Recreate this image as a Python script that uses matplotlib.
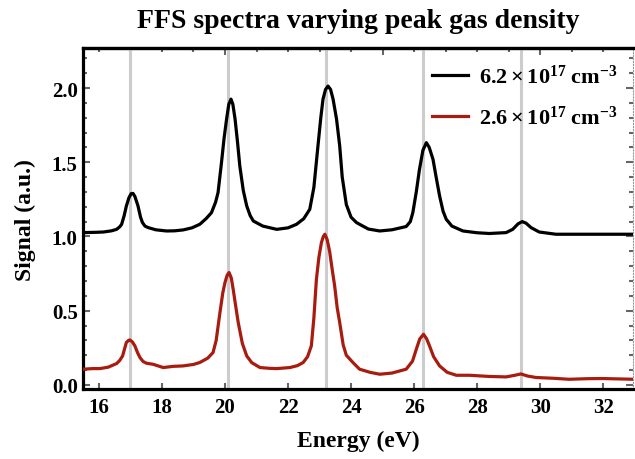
import matplotlib
matplotlib.use("Agg")
import matplotlib.pyplot as plt
from matplotlib.ticker import MultipleLocator, NullLocator

# harmonic positions (gray guide lines), eV
HARMONICS = [17.0, 20.1, 23.2, 26.27, 29.4]

# high density trace
black_x = [15.50, 15.90, 16.14, 16.40, 16.56, 16.66, 16.72, 16.80, 16.87, 16.95,
           17.02, 17.08, 17.14, 17.24, 17.32, 17.38, 17.46, 17.56, 17.80, 18.14,
           18.40, 18.67, 18.95, 19.20, 19.40, 19.57, 19.70, 19.78, 19.89, 19.97,
           20.05, 20.12, 20.19, 20.25, 20.32, 20.40, 20.47, 20.58, 20.69, 20.80,
           20.90, 21.20, 21.64, 22.00, 22.27, 22.50, 22.69, 22.82, 22.95, 23.04,
           23.11, 23.19, 23.27, 23.35, 23.43, 23.54, 23.64, 23.72, 23.85, 24.00,
           24.17, 24.27, 24.55, 24.91, 25.30, 25.75, 25.88, 25.96, 26.07, 26.17,
           26.28, 26.39, 26.48, 26.60, 26.70, 26.81, 26.92, 27.02, 27.20, 27.55,
           28.00, 28.39, 28.92, 29.13, 29.30, 29.43, 29.55, 29.71, 29.97, 30.50,
           31.20, 31.98, 32.99]
black_y = [1.026, 1.028, 1.030, 1.038, 1.048, 1.065, 1.082, 1.140, 1.205, 1.260,
           1.288, 1.290, 1.270, 1.205, 1.130, 1.094, 1.070, 1.060, 1.045, 1.037,
           1.038, 1.044, 1.058, 1.082, 1.120, 1.160, 1.230, 1.296, 1.500, 1.660,
           1.790, 1.890, 1.925, 1.890, 1.790, 1.630, 1.475, 1.310, 1.205, 1.140,
           1.104, 1.070, 1.048, 1.058, 1.082, 1.120, 1.183, 1.330, 1.610, 1.800,
           1.925, 1.990, 2.013, 1.990, 1.925, 1.790, 1.610, 1.400, 1.215, 1.130,
           1.094, 1.082, 1.050, 1.037, 1.045, 1.067, 1.100, 1.160, 1.300, 1.450,
           1.580, 1.632, 1.600, 1.520, 1.400, 1.273, 1.170, 1.116, 1.070, 1.037,
           1.025, 1.020, 1.026, 1.048, 1.085, 1.100, 1.090, 1.060, 1.030, 1.015,
           1.015, 1.015, 1.015]

# low density trace
red_x = [15.50, 15.80, 16.03, 16.30, 16.56, 16.66, 16.75, 16.87, 16.94, 16.98,
         17.06, 17.14, 17.22, 17.30, 17.40, 17.51, 17.72, 18.04, 18.35, 18.67,
         19.00, 19.20, 19.45, 19.62, 19.72, 19.84, 19.93, 20.00, 20.07, 20.13,
         20.20, 20.26, 20.34, 20.42, 20.55, 20.69, 20.85, 21.11, 21.40, 21.64,
         22.06, 22.30, 22.48, 22.62, 22.74, 22.82, 22.90, 22.98, 23.06, 23.12,
         23.17, 23.24, 23.32, 23.40, 23.48, 23.56, 23.64, 23.75, 23.85, 24.06,
         24.27, 24.60, 24.91, 25.30, 25.75, 25.95, 26.07, 26.18, 26.30, 26.40,
         26.49, 26.62, 26.81, 27.05, 27.34, 27.76, 28.39, 28.92, 29.20, 29.39,
         29.60, 29.87, 30.40, 30.92, 31.50, 31.98, 32.99]
red_y = [0.106, 0.110, 0.110, 0.120, 0.144, 0.165, 0.195, 0.286, 0.300, 0.303,
         0.290, 0.263, 0.220, 0.185, 0.158, 0.146, 0.139, 0.117, 0.125, 0.128,
         0.138, 0.151, 0.180, 0.218, 0.300, 0.488, 0.620, 0.690, 0.740, 0.757,
         0.720, 0.644, 0.530, 0.420, 0.280, 0.195, 0.150, 0.117, 0.112, 0.110,
         0.117, 0.130, 0.151, 0.190, 0.263, 0.450, 0.710, 0.860, 0.959, 1.000,
         1.015, 0.980, 0.900, 0.780, 0.667, 0.520, 0.420, 0.270, 0.200, 0.151,
         0.106, 0.085, 0.072, 0.080, 0.106, 0.160, 0.240, 0.310, 0.341, 0.310,
         0.263, 0.190, 0.128, 0.085, 0.065, 0.065, 0.057, 0.054, 0.065, 0.074,
         0.060, 0.050, 0.045, 0.038, 0.042, 0.043, 0.038]

LABELS = [r"$6.2\times10^{17}$ cm$^{-3}$", r"$2.6\times10^{17}$ cm$^{-3}$"]

plt.rcParams["font.family"] = "Liberation Serif"
plt.rcParams["font.weight"] = "bold"
plt.rcParams["mathtext.fontset"] = "custom"
plt.rcParams["mathtext.rm"] = "Liberation Serif:bold"
plt.rcParams["mathtext.bf"] = "Liberation Serif:bold"
plt.rcParams["mathtext.it"] = "Liberation Serif:bold"
plt.rcParams["mathtext.default"] = "rm"

fig = plt.figure(figsize=(6.35, 4.6), dpi=100)
ax = fig.add_axes([0.131, 0.152, 0.866, 0.741])

for h in HARMONICS:
    ax.axvline(h, color="#cccccc", lw=2.2, zorder=1)

ax.plot(black_x, black_y, color="black", lw=2.3, zorder=3, label=LABELS[0],
        solid_joinstyle="round")
ax.plot(red_x, red_y, color="#a81c10", lw=2.3, zorder=3, label=LABELS[1],
        solid_joinstyle="round")

ax.set_xlim(15.5, 32.95)
ax.set_ylim(-0.028, 2.268)

ax.xaxis.set_major_locator(MultipleLocator(2))
ax.xaxis.set_minor_locator(NullLocator())
ax.yaxis.set_major_locator(MultipleLocator(0.5))
ax.yaxis.set_minor_locator(MultipleLocator(0.1))
ax.yaxis.set_major_formatter(plt.FormatStrFormatter("%.1f"))

ax.tick_params(axis="x", which="major", direction="in", length=4, width=1.5,
               color="#666666", labelsize=15, pad=6, top=False)
ax.tick_params(axis="y", which="major", direction="in", length=5, width=1.5,
               color="#666666", labelsize=15, pad=4, right=True)
ax.tick_params(axis="y", which="minor", direction="in", length=3, width=1.5,
               color="#666666", right=True)

# top axis has its own tick spacing
top = ax.secondary_xaxis("top")
top.xaxis.set_major_locator(MultipleLocator(5))
top.xaxis.set_minor_locator(MultipleLocator(1))
top.tick_params(which="major", direction="in", length=5, width=1.5,
                color="#666666", labeltop=False)
top.tick_params(which="minor", direction="in", length=3, width=1.5,
                color="#666666")
top.spines["top"].set_linewidth(2.3)

for side in ["left", "bottom", "top"]:
    ax.spines[side].set_linewidth(2.3)
ax.spines["right"].set_linewidth(0.8)
ax.spines["right"].set_color("#999999")
ax.spines["right"].set_linestyle(":")

ax.set_xlabel("Energy (eV)", fontsize=17, fontweight="bold", labelpad=9)
ax.set_ylabel("Signal (a.u.)", fontsize=17, fontweight="bold", labelpad=11)
ax.set_title("FFS spectra varying peak gas density", fontsize=20,
             fontweight="bold", pad=15)

ax.legend(loc="upper right", bbox_to_anchor=(1.008, 1.012), frameon=False,
          fontsize=16, handlelength=1.6, handletextpad=0.5, labelspacing=0.8)

fig.savefig("out.png", dpi=100)
